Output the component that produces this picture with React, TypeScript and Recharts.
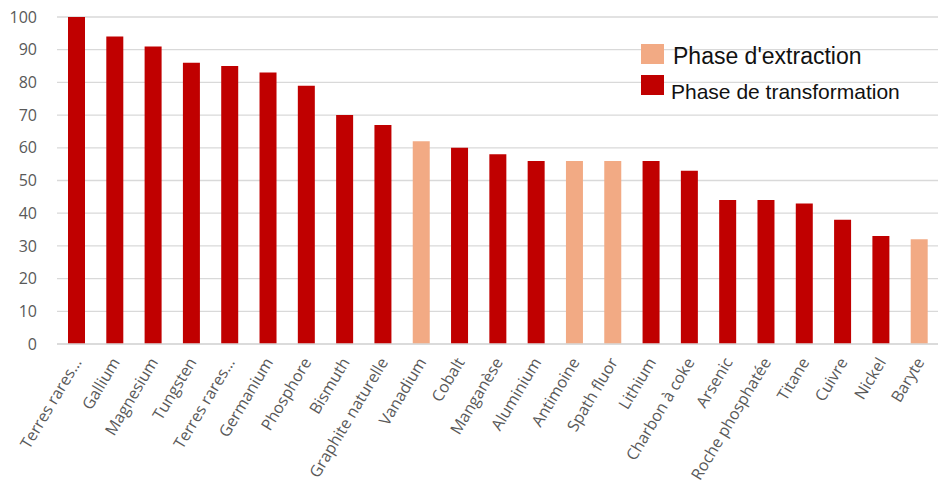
import { BarChart, Bar, XAxis, YAxis, CartesianGrid, Cell } from "recharts";

const minerais = [
  "Terres rares…", "Gallium", "Magnesium", "Tungsten", "Terres rares…", "Germanium",
  "Phosphore", "Bismuth", "Graphite naturelle", "Vanadium", "Cobalt", "Manganèse",
  "Aluminium", "Antimoine", "Spath fluor", "Lithium", "Charbon à coke", "Arsenic",
  "Roche phosphatée", "Titane", "Cuivre", "Nickel", "Baryte",
];
const parts = [100, 94, 91, 86, 85, 83, 79, 70, 67, 62, 60, 58, 56, 56, 56, 56, 53, 44, 44, 43, 38, 33, 32];
// "E" = phase d'extraction, "T" = phase de transformation
const phases = ["T", "T", "T", "T", "T", "T", "T", "T", "T", "E", "T", "T", "T", "E", "E", "T", "T", "T", "T", "T", "T", "T", "E"];
const yTicks = [0, 10, 20, 30, 40, 50, 60, 70, 80, 90, 100];

const COULEURS: Record<string, string> = { E: "#F2AA84", T: "#C00000" };
const FONT = "'Open Sans', 'Noto Sans', sans-serif";

const data = minerais.map((nom, i) => ({ nom, valeur: parts[i], phase: phases[i] }));

function TickX({ x, y, payload }: any) {
  const tx = x + 6;
  const ty = y + 10;
  return (
    <text
      x={tx}
      y={ty}
      transform={`rotate(-59 ${tx} ${ty})`}
      textAnchor="end"
      fontSize={16}
      fill="#595959"
      fontFamily={FONT}
    >
      {payload.value}
    </text>
  );
}

function Legende() {
  const items = [
    { label: "Phase d'extraction", color: COULEURS.E, size: 23, box: 44, text: 43, x: 673 },
    { label: "Phase de transformation", color: COULEURS.T, size: 21, box: 75, text: 79, x: 671 },
  ];
  return (
    <div style={{ position: "absolute", left: 0, top: 0, fontFamily: "Arial, 'Liberation Sans', sans-serif", color: "#111" }}>
      {items.map((it) => (
        <div key={it.label}>
          <span style={{ position: "absolute", left: 641, top: it.box, width: 23, height: 20, background: it.color }} />
          <span style={{ position: "absolute", left: it.x, top: it.text, fontSize: it.size, lineHeight: `${it.size + 4}px`, whiteSpace: "nowrap" }}>
            {it.label}
          </span>
        </div>
      ))}
    </div>
  );
}

export default function App() {
  return (
    <div style={{ position: "absolute", left: 0, top: 0, width: 939, height: 488, background: "#fff", overflow: "hidden" }}>
      <BarChart width={939} height={488} data={data} margin={{ top: 17, right: 1, left: 0, bottom: 0 }}>
        <CartesianGrid vertical={false} stroke="#d9d9d9" strokeWidth={1.3} />
        <XAxis
          dataKey="nom"
          interval={0}
          height={144}
          tick={<TickX />}
          tickLine={false}
          axisLine={{ stroke: "#d9d9d9", strokeWidth: 1.3 }}
        />
        <YAxis
          width={57}
          domain={[0, 100]}
          ticks={yTicks}
          tickLine={false}
          axisLine={false}
          tick={{ fontSize: 16, fill: "#595959", fontFamily: FONT }}
          tickMargin={14}
        />
        <Bar dataKey="valeur" barSize={17} isAnimationActive={false}>
          {data.map((d, i) => (
            <Cell key={i} fill={COULEURS[d.phase]} />
          ))}
        </Bar>
      </BarChart>
      <Legende />
    </div>
  );
}
